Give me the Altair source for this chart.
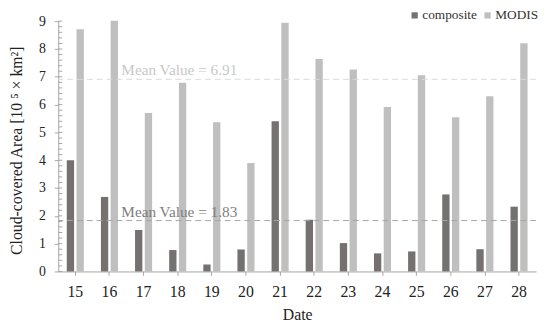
import altair as alt
import pandas as pd

dates = ["15", "16", "17", "18", "19", "20", "21", "22", "23", "24", "25", "26", "27", "28"]
composite = [4.00, 2.68, 1.49, 0.77, 0.25, 0.79, 5.40, 1.86, 1.02, 0.65, 0.72, 2.77, 0.80, 2.33]
modis = [8.71, 9.02, 5.70, 6.79, 5.37, 3.90, 8.94, 7.64, 7.26, 5.91, 7.06, 5.55, 6.30, 8.21]
series = ["composite", "MODIS"]
mean_values = [1.83, 6.91]
mean_labels = ["Mean Value = 1.83", "Mean Value = 6.91"]
y_ticks = [0, 1, 2, 3, 4, 5, 6, 7, 8, 9]
minor_ticks = [round(i * 0.2, 1) for i in range(46)]

FONT = "Liberation Serif"

bars_df = pd.DataFrame(
    [{"Date": d, "series": series[0], "value": v} for d, v in zip(dates, composite)]
    + [{"Date": d, "series": series[1], "value": v} for d, v in zip(dates, modis)]
)
mean_df = pd.DataFrame({"series": series, "value": mean_values, "label": mean_labels})
minor_df = pd.DataFrame({"value": minor_ticks})

y_scale = alt.Scale(domain=[0, 9], nice=False, zero=True)
y_axis = alt.Axis(title="Cloud-covered Area [10 \u2075 \u00d7 km\u00b2]", values=y_ticks,
                  labelOverlap=False, labelFontSize=14, titleFontSize=16, tickSize=4,
                  labelPadding=9, titleX=-34, titleY=131, grid=False)
color_scale = alt.Scale(domain=series, range=["#767171", "#bfbfbf"])

bars = alt.Chart(bars_df).mark_bar().encode(
    x=alt.X("Date:N", sort=dates,
            scale=alt.Scale(paddingInner=0.5, paddingOuter=0.25),
            axis=alt.Axis(title="Date", labelAngle=0, labelFontSize=16, titleFontSize=16,
                          labelPadding=8, tickSize=4, titlePadding=8)),
    xOffset=alt.XOffset("series:N", sort=series,
                        scale=alt.Scale(paddingInner=0.25, paddingOuter=0)),
    y=alt.Y("value:Q", scale=y_scale, axis=y_axis),
    color=alt.Color("series:N", sort=series, scale=color_scale,
                    legend=alt.Legend(title=None, orient="none", direction="horizontal",
                                      legendX=355, legendY=-13, symbolType="square",
                                      symbolSize=40, labelFontSize=13.5, columnPadding=4,
                                      labelOffset=1, symbolStrokeWidth=0,
                                      labelColor="#333333")),
)

mean_rules = alt.Chart(mean_df).mark_rule(strokeDash=[6, 4], strokeWidth=1).encode(
    y=alt.Y("value:Q", scale=y_scale, axis=y_axis),
    color=alt.Color("series:N", scale=alt.Scale(domain=series, range=["#a6a6a6", "#d9d9d9"]),
                    legend=None),
)

mean_text = alt.Chart(mean_df).mark_text(align="left", baseline="alphabetic", dy=-4,
                                         font=FONT, fontSize=15.5).encode(
    x=alt.value(64),
    y=alt.Y("value:Q", scale=y_scale, axis=y_axis),
    color=alt.Color("series:N", scale=alt.Scale(domain=series, range=["#808080", "#c8c8c8"]),
                    legend=None),
    text="label:N",
)

minor = alt.Chart(minor_df).mark_rule(color="#a6a6a6", strokeWidth=1).encode(
    x=alt.value(0), x2=alt.value(4),
    y=alt.Y("value:Q", scale=y_scale, axis=y_axis),
)

chart = alt.layer(bars, mean_rules, mean_text, minor).resolve_scale(color="independent").properties(
    width=485, height=254,
    autosize=alt.AutoSizeParams(type="none"),
    padding={"left": 51, "top": 11, "right": 6, "bottom": 55},
).configure(font=FONT).configure_view(stroke=None).configure_axis(
    domainColor="#a6a6a6", tickColor="#a6a6a6", labelColor="#222222", titleColor="#222222",
    labelFont=FONT, titleFont=FONT, titleFontWeight="normal",
).configure_legend(labelFont=FONT)

chart.save("out.html", embed_options={"renderer": "svg", "actions": False})
